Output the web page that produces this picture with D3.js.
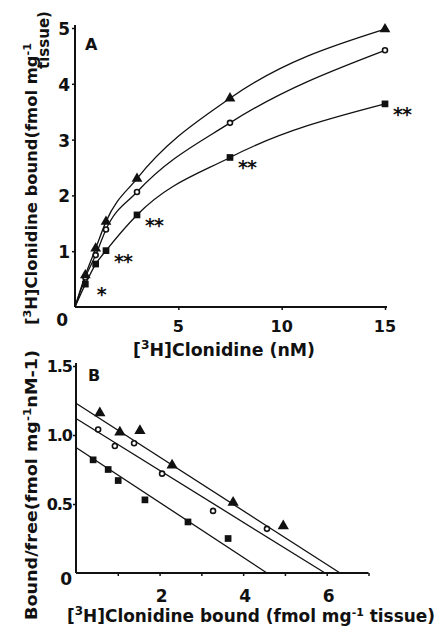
<!DOCTYPE html>
<html>
<head>
<meta charset="utf-8">
<script src="https://cdn.jsdelivr.net/npm/d3@7"></script>
<style>
  html, body { margin: 0; padding: 0; background: #fff; }
  svg { display: block; }
  text { font-family: "DejaVu Sans", sans-serif; font-weight: bold; fill: #111; }
</style>
</head>
<body>
<svg id="chart" width="441" height="629"></svg>
<script>
// ---------- DATA ----------
// Panel A: saturation curves
const concA = [0.5, 1, 1.5, 3, 7.5, 15];                 // [3H]Clonidine (nM)
const boundTriangle = [0.57, 1.05, 1.53, 2.30, 3.74, 4.98];
const boundCircle   = [0.53, 0.93, 1.39, 2.06, 3.30, 4.60];
const boundSquare   = [0.41, 0.77, 1.01, 1.65, 2.68, 3.64];
const starLabels    = ["*", "", "**", "**", "**", "**"];  // significance marks on square series
const xTicksA = [5, 10, 15];
const yTicksA = [1, 2, 3, 4, 5];

// Panel B: Scatchard plot
const bTriangleX = [0.57, 1.05, 1.53, 2.30, 3.76, 4.96];
const bTriangleY = [1.16, 1.02, 1.03, 0.78, 0.51, 0.34];
const bCircleX   = [0.53, 0.93, 1.39, 2.06, 3.28, 4.57];
const bCircleY   = [1.04, 0.92, 0.94, 0.72, 0.45, 0.32];
const bSquareX   = [0.41, 0.77, 1.01, 1.65, 2.68, 3.64];
const bSquareY   = [0.82, 0.75, 0.67, 0.53, 0.37, 0.25];
// fitted regression lines: y-intercept and x-intercept
const fitYIntercept = [1.23, 1.12, 0.91];   // triangle, circle, square
const fitXIntercept = [6.32, 5.96, 4.57];
const xTicksB = [1, 2, 3, 4, 5, 6, 7];
const xTickLabelsB = [2, 4, 6];
const yTicksB = [0.5, 1.0, 1.5];

// ---------- SETUP ----------
const svg = d3.select("#chart");
const ink = "#111";

// Panel A scales
const xA = d3.scaleLinear().domain([0, 15]).range([75, 385]);
const yA = d3.scaleLinear().domain([0, 5]).range([307, 28]);
// Panel B scales
const xB = d3.scaleLinear().domain([0, 7]).range([76, 368.5]);
const yB = d3.scaleLinear().domain([0, 1.5]).range([573, 366]);

const triPath = d3.symbol().type(d3.symbolTriangle);
const sqPath = d3.symbol().type(d3.symbolSquare);

function drawMarkers(g, xs, ys, kind, xs_, ys_, triSize, sqSize, cr) {
  const pts = xs.map((x, i) => [x, ys[i]]);
  if (kind === "tri") {
    g.selectAll(null).data(pts).enter().append("path")
      .attr("d", triPath.size(triSize)())
      .attr("transform", d => `translate(${xs_(d[0])},${ys_(d[1])})`)
      .attr("fill", ink);
  } else if (kind === "sq") {
    g.selectAll(null).data(pts).enter().append("path")
      .attr("d", sqPath.size(sqSize)())
      .attr("transform", d => `translate(${xs_(d[0])},${ys_(d[1])})`)
      .attr("fill", ink);
  } else {
    g.selectAll(null).data(pts).enter().append("circle")
      .attr("cx", d => xs_(d[0])).attr("cy", d => ys_(d[1]))
      .attr("r", cr).attr("fill", "#fff").attr("stroke", ink).attr("stroke-width", 1.6);
  }
}

// ---------- PANEL A ----------
const gA = svg.append("g");
// axes
const axA = gA.append("g").attr("transform", `translate(0,${yA(0)})`)
  .call(d3.axisBottom(xA).tickValues(xTicksA).tickSize(3).tickFormat(""));
axA.select(".domain").attr("d", `M${xA(0)},0H${xA(15) + 2}`);
const ayA = gA.append("g").attr("transform", `translate(${xA(0)},0)`)
  .call(d3.axisLeft(yA).tickValues(yTicksA).tickSize(3).tickFormat(""));
ayA.select(".domain").attr("d", `M0,${yA(0)}V${yA(5) - 3}`);
[axA, ayA].forEach(a => {
  a.selectAll(".domain").attr("stroke", ink).attr("stroke-width", 2);
  a.selectAll(".tick line").attr("stroke", ink).attr("stroke-width", 1.5);
});
// tick labels
gA.selectAll(null).data(xTicksA).enter().append("text")
  .attr("x", d => xA(d)).attr("y", 332).attr("text-anchor", "middle")
  .attr("font-size", 16).text(d => d);
gA.selectAll(null).data(yTicksA).enter().append("text")
  .attr("x", 70).attr("y", d => yA(d) + 7).attr("text-anchor", "end")
  .attr("font-size", 17).text(d => d);
gA.append("text").attr("x", 68).attr("y", 326).attr("text-anchor", "end")
  .attr("font-size", 17).text("0");
gA.append("text").attr("x", 85).attr("y", 50).attr("font-size", 16).text("A");

// curves
const lineA = d3.line().x(d => xA(d[0])).y(d => yA(d[1])).curve(d3.curveMonotoneX);
[boundTriangle, boundCircle, boundSquare].forEach(vals => {
  const pts = [[0, 0]].concat(concA.map((c, i) => [c, vals[i]]));
  gA.append("path").attr("d", lineA(pts)).attr("fill", "none")
    .attr("stroke", ink).attr("stroke-width", 1.3);
});
drawMarkers(gA, concA, boundSquare, "sq", xA, yA, 0, 45, 0);
drawMarkers(gA, concA, boundCircle, "circ", xA, yA, 0, 0, 2.5);
drawMarkers(gA, concA, boundTriangle, "tri", xA, yA, 50, 0, 0);
// significance stars
gA.selectAll(null).data(concA.map((c, i) => [c, boundSquare[i], starLabels[i]]).filter(d => d[2]))
  .enter().append("text")
  .attr("x", d => xA(d[0]) + (d[2].length > 1 ? 17 : 16))
  .attr("y", d => yA(d[1]) + 17)
  .attr("text-anchor", "middle").attr("font-size", 19)
  .attr("letter-spacing", -1)
  .text(d => d[2]);

// axis titles A
const ylabA = gA.append("text").attr("transform", "translate(37,184) rotate(-90)")
  .attr("text-anchor", "middle").attr("font-size", 16)
  .attr("textLength", 282).attr("lengthAdjust", "spacingAndGlyphs");
ylabA.append("tspan").text("[");
ylabA.append("tspan").attr("dy", -6).attr("font-size", 11).text("3");
ylabA.append("tspan").attr("dy", 6).text("H]Clonidine bound(fmol mg");
ylabA.append("tspan").attr("dy", -6).attr("font-size", 11).text("-1");
gA.append("text").attr("transform", "translate(49,40) rotate(-90)")
  .attr("text-anchor", "middle").attr("font-size", 15).text("tissue)");

const xlabA = gA.append("text").attr("x", 224).attr("y", 356)
  .attr("text-anchor", "middle").attr("font-size", 17)
  .attr("textLength", 182).attr("lengthAdjust", "spacingAndGlyphs");
xlabA.append("tspan").text("[");
xlabA.append("tspan").attr("dy", -7).attr("font-size", 12).text("3");
xlabA.append("tspan").attr("dy", 7).text("H]Clonidine  (nM)");

// ---------- PANEL B ----------
const gB = svg.append("g");
const axB = gB.append("g").attr("transform", `translate(0,${yB(0)})`)
  .call(d3.axisBottom(xB).tickValues(xTicksB).tickSize(3).tickFormat(""));
axB.select(".domain").attr("d", `M${xB(0)},0H${xB(7)}`);
const ayB = gB.append("g").attr("transform", `translate(${xB(0)},0)`)
  .call(d3.axisLeft(yB).tickValues(yTicksB).tickSize(3).tickFormat(""));
ayB.select(".domain").attr("d", `M0,${yB(0)}V${yB(1.5) - 3}`);
[axB, ayB].forEach(a => {
  a.selectAll(".domain").attr("stroke", ink).attr("stroke-width", 2);
  a.selectAll(".tick line").attr("stroke", ink).attr("stroke-width", 1.5);
});
gB.selectAll(null).data(xTickLabelsB).enter().append("text")
  .attr("x", d => xB(d) + 2).attr("y", 602).attr("text-anchor", "middle")
  .attr("font-size", 17).text(d => d);
gB.selectAll(null).data(yTicksB).enter().append("text")
  .attr("x", 72).attr("y", d => yB(d) + 6).attr("text-anchor", "end")
  .attr("font-size", 16).attr("letter-spacing", -1).text(d => d.toFixed(1));
gB.append("text").attr("x", 72).attr("y", 585).attr("text-anchor", "end")
  .attr("font-size", 17).text("0");
gB.append("text").attr("x", 88).attr("y", 381).attr("font-size", 16).text("B");

// regression lines
fitYIntercept.forEach((yi, i) => {
  gB.append("line")
    .attr("x1", xB(0)).attr("y1", yB(yi))
    .attr("x2", xB(fitXIntercept[i])).attr("y2", yB(0))
    .attr("stroke", ink).attr("stroke-width", 1.3);
});
drawMarkers(gB, bSquareX, bSquareY, "sq", xB, yB, 0, 45, 0);
drawMarkers(gB, bCircleX, bCircleY, "circ", xB, yB, 0, 0, 2.5);
drawMarkers(gB, bTriangleX, bTriangleY, "tri", xB, yB, 55, 0, 0);

// axis titles B
const ylabB = gB.append("text").attr("transform", "translate(37,485) rotate(-90)")
  .attr("text-anchor", "middle").attr("font-size", 16)
  .attr("textLength", 270).attr("lengthAdjust", "spacingAndGlyphs");
ylabB.append("tspan").text("Bound/free(fmol mg");
ylabB.append("tspan").attr("dy", -6).attr("font-size", 11).text("-1");
ylabB.append("tspan").attr("dy", 6).text("nM-1)");

const xlabB = gB.append("text").attr("x", 251).attr("y", 622)
  .attr("text-anchor", "middle").attr("font-size", 17)
  .attr("textLength", 368).attr("lengthAdjust", "spacingAndGlyphs");
xlabB.append("tspan").text("[");
xlabB.append("tspan").attr("dy", -7).attr("font-size", 12).text("3");
xlabB.append("tspan").attr("dy", 7).text("H]Clonidine  bound (fmol mg");
xlabB.append("tspan").attr("dy", -6).attr("font-size", 11).text("-1");
xlabB.append("tspan").attr("dy", 6).text(" tissue)");
</script>
</body>
</html>
